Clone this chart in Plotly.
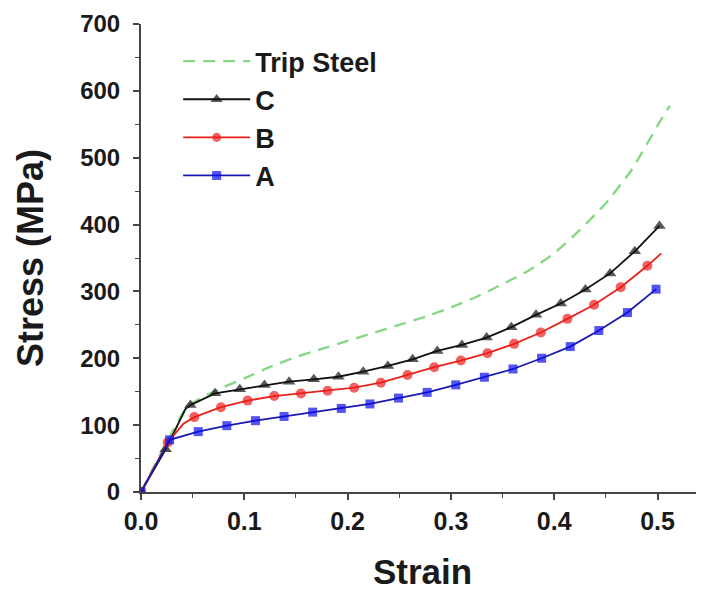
import plotly.graph_objects as go

# ---- data ----
strain_T = [0, 0.025, 0.045, 0.07, 0.1, 0.125, 0.15, 0.175, 0.2, 0.225, 0.25, 0.275,
            0.3, 0.325, 0.35, 0.375, 0.4, 0.425, 0.45, 0.475, 0.5, 0.512]
stress_T = [0, 75, 128, 150, 170, 187, 202, 214, 226, 238, 250, 262,
            276, 292, 311, 331, 357, 392, 432, 482, 548, 578]

strain_C = [0, 0.0239, 0.043, 0.0478, 0.0717, 0.0956, 0.1195, 0.1434, 0.1673, 0.1912,
            0.2151, 0.2390, 0.2629, 0.2868, 0.3107, 0.3346, 0.3585, 0.3824, 0.4063,
            0.4302, 0.4541, 0.4780, 0.5019]
stress_C = [0, 64, 124, 130, 147.6, 153.6, 160, 165, 168.6, 172.4,
            180, 188.5, 198.5, 211, 220, 231, 246.6, 265, 282,
            303, 327, 360, 398]
marked_C = [1, 1, 0, 1, 1, 1, 1, 1, 1, 1, 1, 1, 1, 1, 1, 1, 1, 1, 1, 1, 1, 1, 1]

strain_B = [0, 0.0258, 0.041, 0.0516, 0.0774, 0.1032, 0.129, 0.1548, 0.1806, 0.2064,
            0.2322, 0.258, 0.2838, 0.3096, 0.3354, 0.3612, 0.387, 0.4128, 0.4386,
            0.4644, 0.4902, 0.5037]
stress_B = [0, 74, 102, 112, 126.8, 136.7, 143.5, 147.5, 151.5, 156,
            163.5, 175.1, 186.7, 196.6, 207.6, 221.6, 238.5, 259, 280,
            306.4, 338.3, 357]
marked_B = [1, 1, 0, 1, 1, 1, 1, 1, 1, 1, 1, 1, 1, 1, 1, 1, 1, 1, 1, 1, 1, 0]

strain_A = [0, 0.0277, 0.0554, 0.0831, 0.1108, 0.1385, 0.1662, 0.1939, 0.2216, 0.2493,
            0.277, 0.3047, 0.3324, 0.3601, 0.3878, 0.4155, 0.4432, 0.4709, 0.4986]
stress_A = [0, 78, 90.3, 99.3, 106.7, 113, 119.5, 125, 131.7, 140.5,
            149, 160.2, 171.7, 184, 200.1, 217.5, 241.5, 268.4, 303.4]
marked_A = [1] * len(strain_A)

x_ticks = [0.0, 0.1, 0.2, 0.3, 0.4, 0.5]
y_ticks = [0, 100, 200, 300, 400, 500, 600, 700]

FONT = "Liberation Sans"
TXT = "#1a1a1a"

fig = go.Figure()

fig.add_trace(go.Scatter(
    x=strain_T, y=stress_T, name="Trip Steel", mode="lines",
    line=dict(color="#86d886", width=2.4, dash="12px,8px", shape="spline", smoothing=0.5),
))


def sizes(flags, s):
    return [s if f else 0 for f in flags]


fig.add_trace(go.Scatter(
    x=strain_C, y=stress_C, name="C", mode="lines+markers",
    line=dict(color="#111111", width=1.8),
    marker=dict(symbol="triangle-up", size=sizes(marked_C, 11), color="#111111", line=dict(width=0)),
))
fig.add_trace(go.Scatter(
    x=strain_B, y=stress_B, name="B", mode="lines+markers",
    line=dict(color="#e8231c", width=1.8),
    marker=dict(symbol="circle", size=sizes(marked_B, 10), color="#ee1c1c", line=dict(width=0)),
))
fig.add_trace(go.Scatter(
    x=strain_A, y=stress_A, name="A", mode="lines+markers",
    line=dict(color="#1a1ab0", width=1.8),
    marker=dict(symbol="square", size=sizes(marked_A, 9), color="#0b0bea", line=dict(width=0)),
))

axis_common = dict(
    showline=True, linecolor="#444444", linewidth=2,
    ticks="outside", ticklen=6, tickwidth=1.5, tickcolor="#444444",
    showgrid=False, zeroline=False, automargin=False,
)

fig.update_xaxes(
    range=[0, 0.545], tickvals=x_ticks, ticktext=[f"{v:.1f}" for v in x_ticks],
    tickfont=dict(family=FONT, size=25, color=TXT, weight="bold"),
    minor=dict(dtick=0.05, ticks="outside", ticklen=4, tickwidth=1.2, tickcolor="#444444"),
    title=dict(text="Strain", font=dict(family=FONT, size=35, color=TXT, weight="bold"), standoff=25),
    **axis_common,
)
fig.update_yaxes(
    range=[0, 700], tickvals=y_ticks, ticktext=[str(v) for v in y_ticks],
    tickfont=dict(family=FONT, size=24, color=TXT, weight="bold"),
    ticklabelstandoff=8,
    minor=dict(dtick=50, ticks="outside", ticklen=4, tickwidth=1.2, tickcolor="#444444"),
    title=dict(text="Stress (MPa)", font=dict(family=FONT, size=36, color=TXT, weight="bold"), standoff=26),
    **axis_common,
)

fig.update_layout(
    width=696, height=586,
    margin=dict(l=133, r=0, t=16, b=102),
    paper_bgcolor="white", plot_bgcolor="white",
    showlegend=True,
    legend=dict(
        x=0.066, y=0.972, xanchor="left", yanchor="top",
        bgcolor="rgba(0,0,0,0)", itemwidth=67,
        font=dict(family=FONT, size=27, color=TXT, weight="bold"),
        tracegroupgap=0, traceorder="normal",
    ),
)

fig.write_html("out.html")
